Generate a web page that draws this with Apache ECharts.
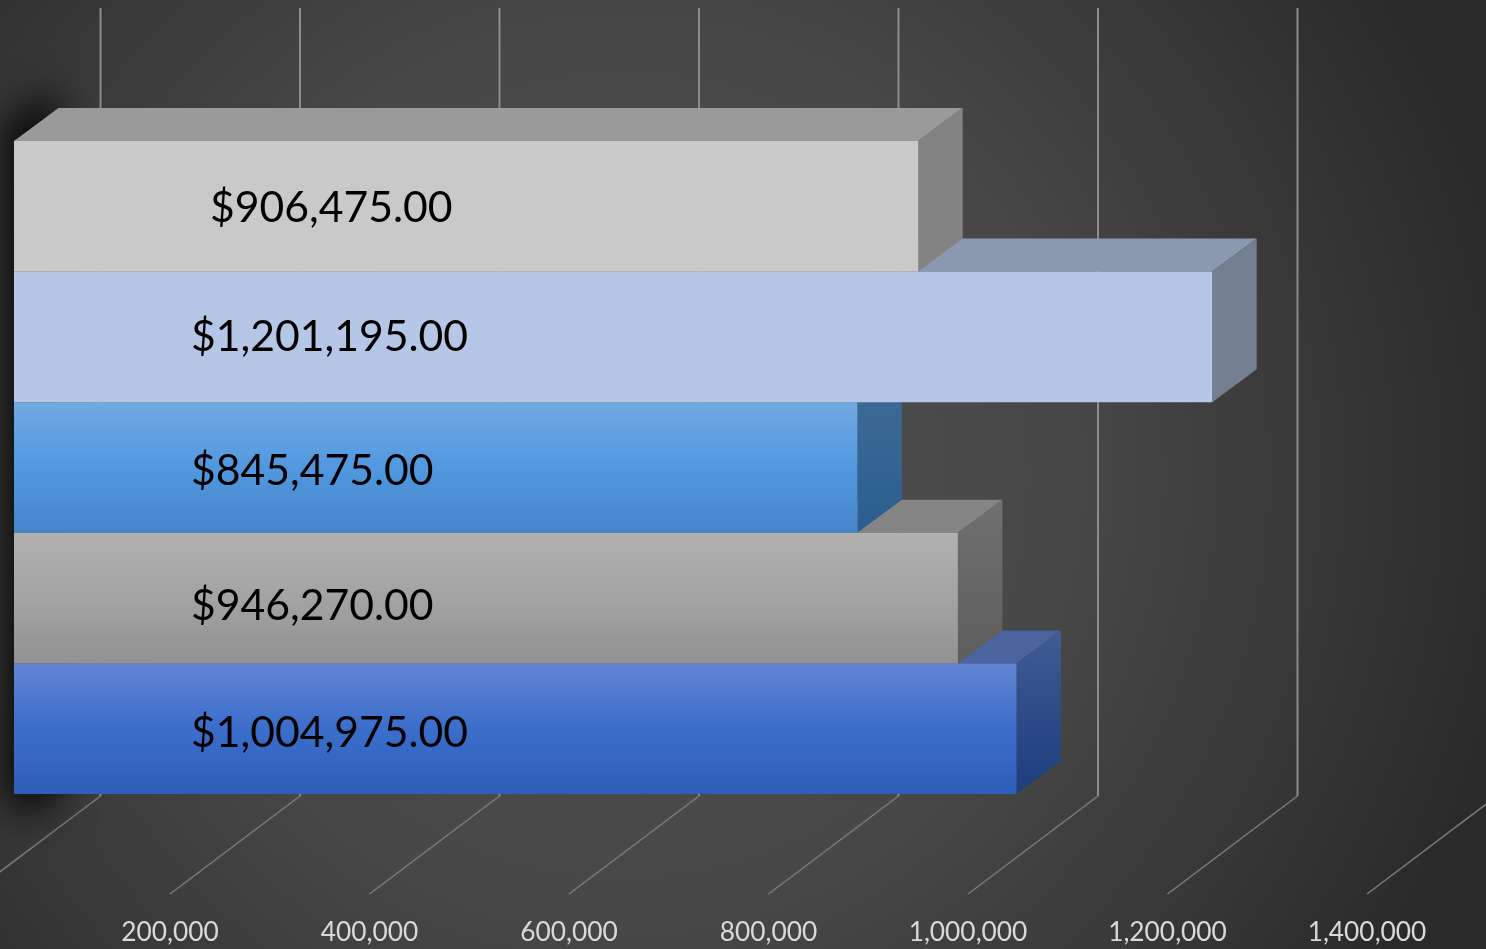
<!DOCTYPE html>
<html>
<head>
<meta charset="utf-8">
<style>html,body{margin:0;padding:0;background:#3c3c3c;overflow:hidden}#chart{width:1486px;height:949px}</style>
<script src="https://cdn.jsdelivr.net/npm/echarts@6/dist/echarts.min.js"></script>
</head>
<body>
<div id="chart"></div>
<script>
// Data, listed from the bottom bar to the top bar
const categories = ['Item 1', 'Item 2', 'Item 3', 'Item 4', 'Item 5'];
const values = [1004975, 946270, 845475, 1201195, 906475];
const valueLabels = ['$1,004,975.00', '$946,270.00', '$845,475.00', '$1,201,195.00', '$906,475.00'];
const tickValues = [0, 200000, 400000, 600000, 800000, 1000000, 1200000, 1400000];

// Styles, same order as the data
const grad = (...c) => ({ type: 'linear', x: 0, y: 0, x2: 0, y2: 1,
  colorStops: c.map((color, i) => ({ offset: i / (c.length - 1), color })) });
const frontFills = [
  grad('#6285d3', '#3b6dcb', '#2d5fb9'),
  grad('#b1b1b1', '#a3a3a3', '#929292'),
  grad('#72aae2', '#5198e0', '#4685c8'),
  grad('#b5c6e7', '#b5c6e7'),
  grad('#c9c9c9', '#c9c9c9')
];
const topFills = ['#49649f', '#858585', '#3f6c96', '#8a98b0', '#9a9a9a'];
const sideFills = [
  grad('#3f5c95', '#1c3c7c'),
  grad('#707070', '#5d5d5d'),
  grad('#406c96', '#2a5e8f'),
  grad('#74808f', '#74808f'),
  grad('#838383', '#838383')
];
const labelShiftX = [0, 0, 0, 0, 19];
const labelShiftY = [5, 8, 4, 0, 2];

// Oblique projection constants, in pixels
const barDepth = { x: 44.5, y: -33 };    // how far a bar's back edge sits from its front
const barPlaneX = 43.5;                  // bars' front plane relative to the floor's front edge
const wallX = 130;                       // back wall relative to the floor's front edge
const wallTop = -133, wallBottom = 2, floorFront = 100; // relative to plot top / bottom
const shadowThrow = 3000;                // the shape sits off-canvas; only its blur is seen

const chart = echarts.init(document.getElementById('chart'), null, { renderer: 'canvas' });

function renderGrid(params, api) {
  const x = api.coord([api.value(0), 0])[0];
  const r = params.coordSys;
  const bottom = r.y + r.height;
  return { type: 'group', silent: true, children: [
    { type: 'line', shape: { x1: x + wallX, y1: r.y + wallTop, x2: x + wallX, y2: bottom + wallBottom },
      style: { stroke: '#8c8c8c', lineWidth: 2 } },
    { type: 'line', shape: { x1: x + wallX, y1: bottom + wallBottom, x2: x, y2: bottom + floorFront },
      style: { stroke: '#7c7c7c', lineWidth: 1.5 } }
  ]};
}

function renderShadow(params, api) {
  const r = params.coordSys;
  const x0 = api.coord([0, 0])[0] + barPlaneX - shadowThrow;
  const bottom = r.y + r.height;
  return { type: 'polygon', silent: true,
    shape: { points: [[x0 - 6, r.y - 16], [x0 + barDepth.x - 2, r.y + barDepth.y - 18],
                      [x0 + barDepth.x - 2, bottom + 10], [x0 - 6, bottom + 16]] },
    style: { fill: '#000', shadowColor: '#000', shadowBlur: 40, shadowOffsetX: shadowThrow } };
}

function renderBar(params, api) {
  const i = params.dataIndex;
  const c = api.coord([api.value(0), api.value(1)]);
  const c0 = api.coord([0, api.value(1)]);
  const h = api.size([0, 1])[1];
  const xl = c0[0] + barPlaneX, xr = c[0] + barPlaneX;
  const yt = c[1] - h / 2, yb = c[1] + h / 2;
  const dx = barDepth.x, dy = barDepth.y;
  return { type: 'group', silent: true, children: [
    { type: 'polygon', shape: { points: [[xl, yt], [xl + dx, yt + dy], [xr + dx, yt + dy], [xr, yt]] },
      style: { fill: topFills[i] } },
    { type: 'polygon', shape: { points: [[xr, yt], [xr + dx, yt + dy], [xr + dx, yb + dy], [xr, yb]] },
      style: { fill: sideFills[i] } },
    { type: 'rect', shape: { x: xl, y: yt, width: xr - xl, height: yb - yt },
      style: { fill: frontFills[i] } },
    { type: 'text', style: { x: xl + 177 + labelShiftX[i], y: c[1] + labelShiftY[i], text: valueLabels[i],
        fill: '#000', font: '42.7px Lato', textAlign: 'left', textVerticalAlign: 'middle' } }
  ]};
}

chart.setOption({
  animation: false,
  backgroundColor: { type: 'radial', x: 0.42, y: 0.5, r: 0.95,
    colorStops: [{ offset: 0, color: '#505050' }, { offset: 0.5, color: '#474747' }, { offset: 0.75, color: '#393939' }, { offset: 1, color: '#2a2a2a' }] },
  tooltip: { show: false },
  grid: { left: -29.5, top: 141, width: 1396.5, height: 653, containLabel: false, outerBoundsMode: 'none' },
  xAxis: {
    type: 'value', min: 0, max: 1400000, interval: 200000,
    axisLine: { show: false }, axisTick: { show: false }, splitLine: { show: false },
    axisLabel: { show: true, margin: 126, color: '#d9d9d9', fontFamily: 'Lato', fontSize: 26.3,
      showMinLabel: false, hideOverlap: false,
      formatter: v => v.toLocaleString('en-US') }
  },
  yAxis: {
    type: 'category', data: categories,
    axisLine: { show: false }, axisTick: { show: false }, axisLabel: { show: false }, splitLine: { show: false }
  },
  series: [
    { type: 'custom', name: 'gridlines', coordinateSystem: 'cartesian2d', renderItem: renderGrid, z: 1,
      encode: { x: 0, y: 1 }, data: tickValues.map(v => [v, categories[0]]) },
    { type: 'custom', name: 'shadow', coordinateSystem: 'cartesian2d', renderItem: renderShadow, z: 2,
      encode: { x: 0, y: 1 }, data: [[0, categories[0]]] },
    { type: 'custom', name: 'values', coordinateSystem: 'cartesian2d', renderItem: renderBar, z: 3,
      encode: { x: 0, y: 1 }, data: values.map((v, i) => [v, i]) }
  ]
});
</script>
</body>
</html>
